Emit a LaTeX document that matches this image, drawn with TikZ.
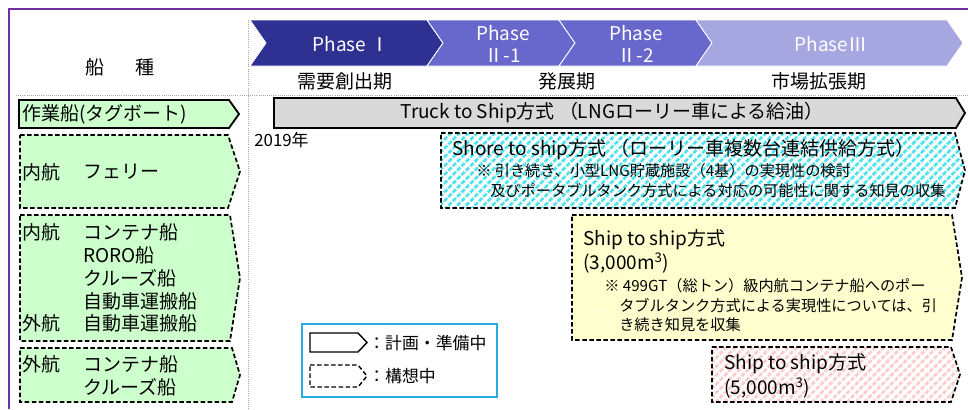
\documentclass[tikz,border=0pt]{standalone}
\usepackage{fontspec}
\setmainfont{Noto Sans CJK JP}
\usetikzlibrary{patterns.meta}

\definecolor{framepurple}{HTML}{7030A0}
\definecolor{phaseA}{HTML}{2E3192}
\definecolor{phaseB}{HTML}{6767CC}
\definecolor{phaseC}{HTML}{A6A6E0}
\definecolor{shipgreen}{HTML}{CCFFCC}
\definecolor{truckgray}{HTML}{D9D9D9}
\definecolor{hatchcyan}{HTML}{4FE3EE}
\definecolor{hatchpink}{HTML}{FFCCCC}
\definecolor{plainyellow}{HTML}{FFFFCC}
\definecolor{legendblue}{HTML}{29ABE2}

\newcommand{\tagbox}[6][]{%
  \draw[#1] (#2,#3) -- ({#4-#6},#3) -- (#4,{(#3+#5)/2}) -- ({#4-#6},#5) -- (#2,#5) -- cycle;}
\newcommand{\phasebox}[6][]{%
  \draw[#1] (#2,#3) -- ({#4-#6},#3) -- (#4,{(#3+#5)/2}) -- ({#4-#6},#5) -- (#2,#5) -- ({#2+#6},{(#3+#5)/2}) -- cycle;}

\tikzset{
  planned/.style={draw=black, line width=1.3pt},
  idea/.style={draw=black, line width=1.2pt, dash pattern=on 3.2pt off 1.8pt},
  guide/.style={draw=gray!70, line width=0.5pt, densely dotted},
  big/.style={font=\fontsize{13.5}{15.6}\selectfont, inner sep=0pt},
  note/.style={font=\fontsize{10.8}{13}\selectfont, inner sep=0pt},
  keytext/.style={font=\fontsize{12}{14}\selectfont, inner sep=0pt},
  phasetext/.style={big, text=white, align=center}
}

\begin{document}
\begin{tikzpicture}[x=0.025cm, y=-0.025cm]
\useasboundingbox (0,0) rectangle (968,409);
\fill[white] (0,0) rectangle (968,409);

\draw[framepurple, line width=2pt] (9,409) -- (9,9) -- (968,9);
\draw[guide] (248,20) -- (248,409);
\draw[guide] (16,95) -- (968,95);

\phasebox[fill=phaseA, draw=white, line width=0.6pt]{250}{20}{443}{66}{16}
\phasebox[fill=phaseB, draw=white, line width=0.6pt]{427}{20}{575}{66}{16}
\phasebox[fill=phaseB, draw=white, line width=0.6pt]{559}{20}{712}{66}{16}
\phasebox[fill=phaseC, draw=white, line width=0.6pt]{696}{20}{963}{66}{16}

\node[big] (kind) at (120,67) {船\hspace{1.6em}種};
\node[phasetext] (ph1) at (351,44) {Phase Ⅰ};
\node[phasetext] (ph21) at (503,44) {Phase\\Ⅱ-1};
\node[phasetext] (ph22) at (636,44) {Phase\\Ⅱ-2};
\node[phasetext] (ph3) at (831,44) {PhaseⅢ};

\node[big] (demand) at (345,81) {需要創出期};
\node[big] (growth) at (567,81) {発展期};
\node[big] (market) at (819,81) {市場拡張期};

\tagbox[planned, fill=shipgreen]{19}{100}{239}{128}{10}
\tagbox[idea, fill=shipgreen]{20}{135}{240}{208}{12}
\tagbox[idea, fill=shipgreen]{20}{215}{240}{341}{10}
\tagbox[idea, fill=shipgreen]{20}{348}{240}{402}{8}

\node[big, anchor=west] (tug) at (22,114) {作業船(タグボート)};
\node[big, anchor=west] (ferryA) at (22,172) {内航};
\node[big, anchor=west] (ferryB) at (83,172) {フェリー};
\node[big, anchor=west] (domA) at (22,232) {内航};
\node[big, anchor=west] (domB) at (83,232) {コンテナ船};
\node[big, anchor=west] (domC) at (83,255) {RORO船};
\node[big, anchor=west] (domD) at (83,278) {クルーズ船};
\node[big, anchor=west] (domE) at (83,301) {自動車運搬船};
\node[big, anchor=west] (intA) at (22,323) {外航};
\node[big, anchor=west] (intB) at (83,323) {自動車運搬船};
\node[big, anchor=west] (oceA) at (22,364) {外航};
\node[big, anchor=west] (oceB) at (83,364) {コンテナ船};
\node[big, anchor=west] (oceC) at (83,387) {クルーズ船};

\tagbox[planned, fill=truckgray]{274}{98}{965}{128}{9}
\node[big] (truck) at (612,113) {Truck to Ship方式 （LNGローリー車による給油）};
\node[keytext, anchor=west] (year) at (254,140) {2019年};

\tagbox[idea, pattern={Lines[angle=45,distance=4.4pt,line width=2pt]}, pattern color=hatchcyan]{441}{133}{965}{208}{10}
\node[big, anchor=west] (shoreA) at (452,150) {Shore to ship方式 （ローリー車複数台連結供給方式）};
\node[note, anchor=west] (shoreB) at (476,171) {※ 引き続き、小型LNG貯蔵施設（4基）の実現性の検討};
\node[note, anchor=west] (shoreC) at (490,191) {及びポータブルタンク方式による対応の可能性に関する知見の収集};

\tagbox[idea, preaction={fill=plainyellow}, pattern={Dots[radius=0.35pt,distance=2.5pt]}, pattern color=white]{572}{215}{962}{340}{10}
\node[big, anchor=west] (stsA) at (583,240) {Ship to ship方式};
\node[big, anchor=west] (stsB) at (583,263) {(3,000m\textsuperscript{3})};
\node[note, anchor=west] (stsC) at (604,286) {※ 499GT（総トン）級内航コンテナ船へのポー};
\node[note, anchor=west] (stsD) at (619,306) {タブルタンク方式による実現性については、引};
\node[note, anchor=west] (stsE) at (619,325) {き続き知見を収集};

\tagbox[idea, pattern={Lines[angle=45,distance=4.4pt,line width=1.8pt]}, pattern color=hatchpink]{712}{347}{960}{402}{9}
\node[big, anchor=west] (bigA) at (724,364) {Ship to ship方式};
\node[big, anchor=west] (bigB) at (724,388) {(5,000m\textsuperscript{3})};

\draw[legendblue, line width=1.5pt] (302,324) rectangle (497,397);
\tagbox[planned, fill=white, line width=1pt]{310}{333}{367}{352}{9}
\tagbox[idea, line width=1pt]{310}{365}{367}{387}{9}
\node[keytext, anchor=west] (keyA) at (368,343) {：計画・準備中};
\node[keytext, anchor=west] (keyB) at (368,376) {：構想中};
\end{tikzpicture}
\end{document}
